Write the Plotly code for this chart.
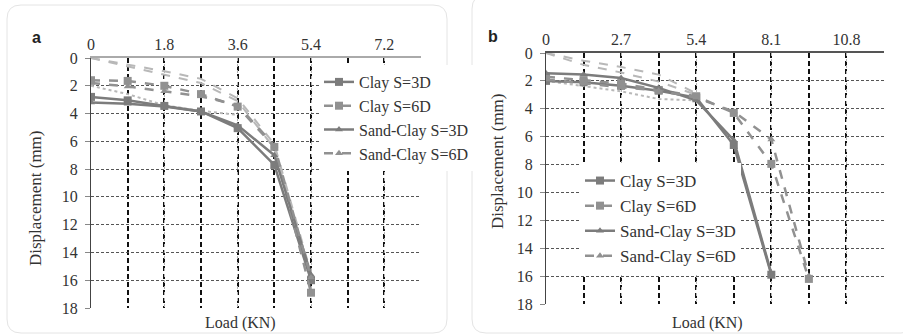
import plotly.graph_objects as go

W, H = 903, 335

# ---------------- data ----------------
loads_a = [0, 0.9, 1.8, 2.7, 3.6, 4.5, 5.4]
a_clay_3d = [2.8, 3.05, 3.45, 3.85, 5.05, 7.7, 16.0]
a_clay_6d = [1.6, 1.65, 2.0, 2.6, 3.5, 6.4, 16.9]
a_sand_3d = [3.2, 3.3, 3.5, 3.85, 4.85, 7.0, 15.6]
a_sand_6d = [1.8, 2.05, 2.4, 2.75, 3.4, 6.3, 15.8]
a_extra_1 = [0, 0.45, 0.95, 1.5, 2.9, 6.2, 15.5]
a_extra_2 = [0, 0.6, 1.15, 1.8, 3.1, 6.5, 15.9]
a_extra_3 = [2.0, 2.6, 3.4, 3.8, 4.1]

loads_b = [0, 1.35, 2.7, 4.05, 5.4, 6.75, 8.1, 9.45]
b_clay_3d = [2.0, 2.1, 2.35, 2.7, 3.2, 6.6, 15.9]
b_clay_6d = [1.7, 1.95, 2.2, 2.65, 3.1, 4.3, 7.95, 16.2]
b_sand_3d = [1.45, 1.55, 1.8, 2.5, 3.4, 6.25, 15.8]
b_sand_6d = [1.9, 2.2, 2.45, 2.7, 3.2, 4.2, 6.2, 16.0]
b_extra_1 = [0, 0.55, 1.0, 1.55, 2.9]
b_extra_2 = [0, 0.85, 1.4, 2.05, 3.0]
b_extra_3 = [2.0, 2.4, 2.75, 3.3, 3.4]

series_names = ["Clay S=3D", "Clay S=6D", "Sand-Clay S=3D", "Sand-Clay S=6D"]
ticks_a = [0, 1.8, 3.6, 5.4, 7.2]
ticks_b = [0, 2.7, 5.4, 8.1, 10.8]
ticks_y = list(range(0, 19, 2))

SERIF = "'Liberation Serif', 'Times New Roman', serif"
SOLID = "#7c7c7c"
DASHC = "#919191"
LIGHT = "#b8b8b8"

fig = go.Figure()

def add(x, y, xa, ya, name, color, dash, symbol, width=2.5, legend=None, msize=8):
    fig.add_trace(go.Scatter(
        x=x[:len(y)], y=y, xaxis=xa, yaxis=ya, name=name,
        mode="lines+markers" if symbol else "lines",
        line=dict(color=color, width=width, dash=dash),
        marker=dict(symbol=symbol or "circle", size=msize, color=color),
        showlegend=legend is not None, legend=legend or "legend",
    ))

# panel a extras (unlabelled)
add(loads_a, a_extra_1, "x", "y", "", LIGHT, "dash", None, 2)
add(loads_a, a_extra_2, "x", "y", "", LIGHT, "dash", None, 2)
add(loads_a, a_extra_3, "x", "y", "", LIGHT, "dot", None, 2)
# panel a series
add(loads_a, a_clay_3d, "x", "y", series_names[0], SOLID, "solid", "square", legend="legend")
add(loads_a, a_clay_6d, "x", "y", series_names[1], DASHC, "dash", "square", legend="legend")
add(loads_a, a_sand_3d, "x", "y", series_names[2], SOLID, "solid", "triangle-up", legend="legend", msize=7)
add(loads_a, a_sand_6d, "x", "y", series_names[3], DASHC, "dash", "triangle-up", legend="legend", msize=7)

# panel b extras
add(loads_b, b_extra_1, "x2", "y2", "", LIGHT, "dash", None, 2)
add(loads_b, b_extra_2, "x2", "y2", "", LIGHT, "dash", None, 2)
add(loads_b, b_extra_3, "x2", "y2", "", LIGHT, "dot", None, 2)
# panel b series
add(loads_b, b_clay_3d, "x2", "y2", series_names[0], SOLID, "solid", "square", legend="legend2")
add(loads_b, b_clay_6d, "x2", "y2", series_names[1], DASHC, "dash", "square", legend="legend2")
add(loads_b, b_sand_3d, "x2", "y2", series_names[2], SOLID, "solid", "triangle-up", legend="legend2", msize=7)
add(loads_b, b_sand_6d, "x2", "y2", series_names[3], DASHC, "dash", "triangle-up", legend="legend2", msize=7)

def px_x(p): return p / W
def px_y(p): return 1 - p / H

tickfont = dict(family=SERIF, size=16, color="#333")

def xaxis(domain, rng, ticks, minor_step, anchor, linecolor, linewidth):
    return dict(
        domain=domain, range=rng, side="top", anchor=anchor, automargin=False,
        tickvals=ticks, ticktext=[f"{t:g}" for t in ticks],
        tickfont=tickfont, ticklabelstandoff=0,
        showline=True, linecolor=linecolor, linewidth=linewidth, mirror=False,
        showgrid=True, gridcolor="#b5b5b5", griddash="dot", gridwidth=1,
        minor=dict(dtick=minor_step, tick0=minor_step, showgrid=True,
                   gridcolor="#111", griddash="5px,3px", gridwidth=1.5),
        zeroline=False, ticks="",
    )

def yaxis(domain, anchor):
    return dict(
        domain=domain, range=[18, 0], anchor=anchor, automargin=False,
        tickvals=ticks_y, tickfont=tickfont,
        showline=True, linecolor="#444", linewidth=1,
        ticks="outside", ticklen=5, tickcolor="#888",
        showgrid=True, gridcolor="#555", griddash="3px,2px", gridwidth=1,
        zeroline=False, ticklabelstandoff=4,
    )

fig.update_layout(
    width=W, height=H, margin=dict(l=0, r=0, t=0, b=0, autoexpand=False),
    paper_bgcolor="white", plot_bgcolor="white",
    font=dict(family=SERIF, size=16, color="#333"),
    xaxis=xaxis([px_x(91), px_x(421)], [0, 8.1], ticks_a, 0.9, "y", "#aaaaaa", 2),
    yaxis=yaxis([px_y(308), px_y(58)], "x"),
    xaxis2=xaxis([px_x(546), px_x(884)], [0, 12.15], ticks_b, 1.35, "y2", "#555555", 1.5),
    yaxis2=yaxis([px_y(304), px_y(53)], "x2"),
    legend=dict(x=px_x(319), y=px_y(65), xanchor="left", yanchor="top",
                bgcolor="white", font=dict(family=SERIF, size=16, color="#333"),
                tracegroupgap=0, itemwidth=30),
    legend2=dict(x=px_x(580), y=px_y(163), xanchor="left", yanchor="top",
                 bgcolor="white", font=dict(family=SERIF, size=17, color="#333"),
                 tracegroupgap=0, itemwidth=30),
    showlegend=True,
)

def rounded(x0, y0, x1, y1, r):
    X = lambda p: p / W
    Y = lambda p: 1 - p / H
    return (f"M {X(x0+r)},{Y(y0)} L {X(x1-r)},{Y(y0)} Q {X(x1)},{Y(y0)} {X(x1)},{Y(y0+r)} "
            f"L {X(x1)},{Y(y1-r)} Q {X(x1)},{Y(y1)} {X(x1-r)},{Y(y1)} "
            f"L {X(x0+r)},{Y(y1)} Q {X(x0)},{Y(y1)} {X(x0)},{Y(y1-r)} "
            f"L {X(x0)},{Y(y0+r)} Q {X(x0)},{Y(y0)} {X(x0+r)},{Y(y0)} Z")

fig.add_shape(type="path", path=rounded(7, 5, 447, 333, 14), xref="paper", yref="paper",
              line=dict(color="#e4e4e4", width=1), layer="below")
fig.add_shape(type="path", path=rounded(472, -5, 915, 333, 14), xref="paper", yref="paper",
              line=dict(color="#e4e4e4", width=1), layer="below")

SANS = "'Liberation Sans', Arial, sans-serif"
ann = [
    dict(text="<b>a</b>", x=px_x(36), y=px_y(37), font=dict(family=SANS, size=16, color="#222")),
    dict(text="<b>b</b>", x=px_x(493), y=px_y(36), font=dict(family=SANS, size=16, color="#222")),
    dict(text="Load (KN)", x=px_x(240), y=px_y(323), font=dict(family=SERIF, size=16, color="#333")),
    dict(text="Load (KN)", x=px_x(707), y=px_y(323), font=dict(family=SERIF, size=16, color="#333")),
    dict(text="Displacement (mm)", x=px_x(35), y=px_y(198), textangle=-90,
         font=dict(family=SERIF, size=17, color="#333")),
    dict(text="Displacement (mm)", x=px_x(497), y=px_y(161), textangle=-90,
         font=dict(family=SERIF, size=17, color="#333")),
]
for a in ann:
    fig.add_annotation(xref="paper", yref="paper", showarrow=False,
                       xanchor="center", yanchor="middle", **a)

fig.write_html("out.html", config={"displayModeBar": False},
               post_script="document.body.style.margin='0';document.body.style.padding='0';")
